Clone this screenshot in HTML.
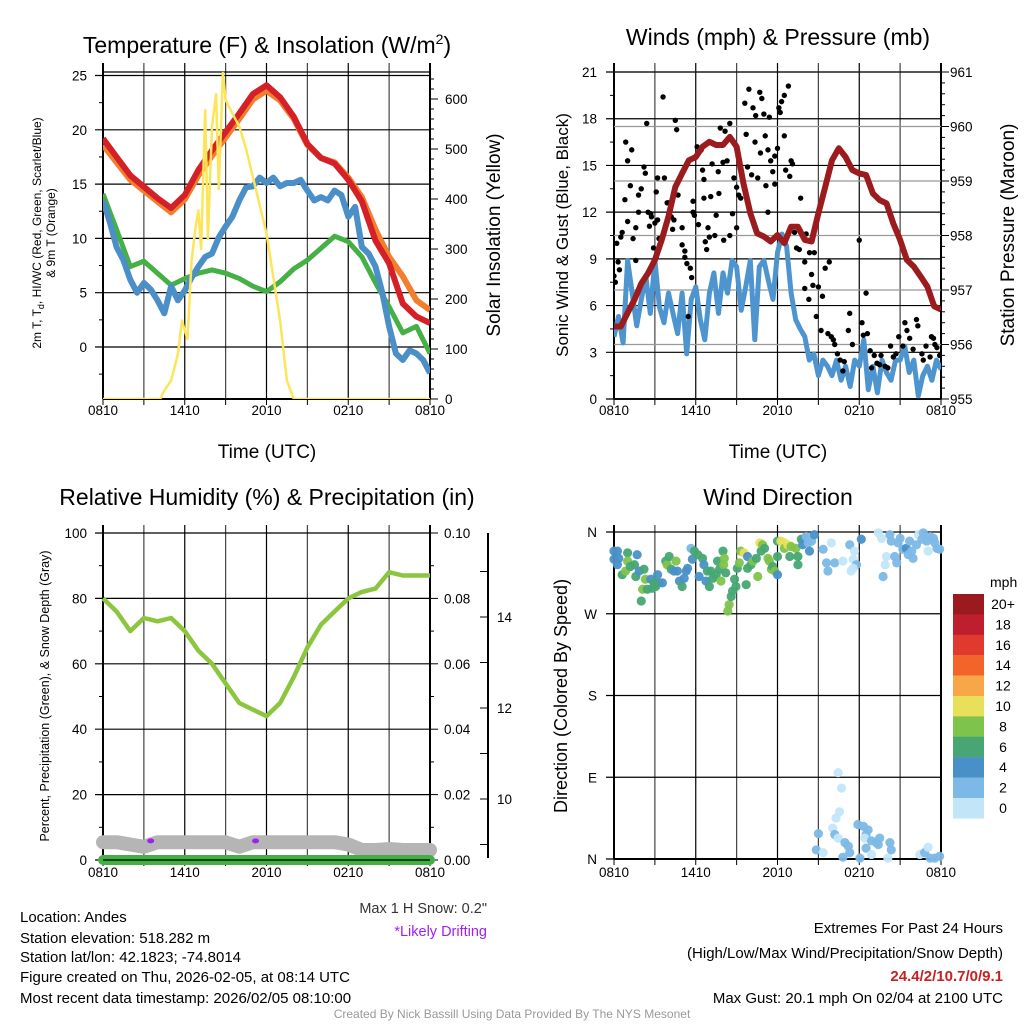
<!DOCTYPE html>
<html><head><meta charset="utf-8"><style>
html,body{margin:0;padding:0;background:#fff;}
svg{display:block;font-family:"Liberation Sans",Arial,sans-serif;}
</style></head><body>
<svg id="chart" width="1024" height="1024" viewBox="0 0 1024 1024" xmlns="http://www.w3.org/2000/svg">
<rect width="1024" height="1024" fill="#fff"/>
<g id="g1"></g>
<g id="g2"></g>
<g id="g3"></g>
<g id="g4"></g>
<text x="267" y="53" text-anchor="middle" font-size="23">Temperature (F) &amp; Insolation (W/m<tspan dy="-9" font-size="14">2</tspan><tspan dy="9">)</tspan></text>
<text x="778" y="45" text-anchor="middle" font-size="23">Winds (mph) &amp; Pressure (mb)</text>
<text x="267" y="505" text-anchor="middle" font-size="23">Relative Humidity (%) &amp; Precipitation (in)</text>
<text x="778" y="505" text-anchor="middle" font-size="23">Wind Direction</text>
<text x="267" y="458" text-anchor="middle" font-size="19">Time (UTC)</text>
<text x="778" y="458" text-anchor="middle" font-size="19">Time (UTC)</text>
<text transform="translate(41,233) rotate(-90)" text-anchor="middle" font-size="12">2m T, T<tspan dy="3" font-size="9">d</tspan><tspan dy="-3">, HI/WC (Red, Green, Scarlet/Blue)</tspan></text>
<text transform="translate(55,233) rotate(-90)" text-anchor="middle" font-size="12">&amp; 9m T (Orange)</text>
<text transform="translate(500,235) rotate(-90)" text-anchor="middle" font-size="19">Solar Insolation (Yellow)</text>
<text transform="translate(568,235) rotate(-90)" text-anchor="middle" font-size="17">Sonic Wind &amp; Gust (Blue, Black)</text>
<text transform="translate(1014,235) rotate(-90)" text-anchor="middle" font-size="19">Station Pressure (Maroon)</text>
<text transform="translate(49,696) rotate(-90)" text-anchor="middle" font-size="12.5">Percent, Precipitation (Green), &amp; Snow Depth (Gray)</text>
<text transform="translate(567,696) rotate(-90)" text-anchor="middle" font-size="18">Direction (Colored By Speed)</text>
<text x="487" y="913" text-anchor="end" font-size="14.5" fill="#333">Max 1 H Snow: 0.2"</text>
<text x="487" y="936" text-anchor="end" font-size="14.5" fill="#a020f0">*Likely Drifting</text>
<g font-size="15">
<text x="20" y="922">Location: Andes</text>
<text x="20" y="943">Station elevation: 518.282 m</text>
<text x="20" y="962">Station lat/lon: 42.1823; -74.8014</text>
<text x="20" y="982">Figure created on Thu, 2026-02-05, at 08:14 UTC</text>
<text x="20" y="1003">Most recent data timestamp: 2026/02/05 08:10:00</text>
</g>
<g font-size="15" text-anchor="end">
<text x="1003" y="933">Extremes For Past 24 Hours</text>
<text x="1003" y="958">(High/Low/Max Wind/Precipitation/Snow Depth)</text>
<text x="1003" y="981" fill="#cc2020" font-weight="bold">24.4/2/10.7/0/9.1</text>
<text x="1003" y="1003">Max Gust: 20.1 mph On 02/04 at 2100 UTC</text>
</g>
<text x="512" y="1018" text-anchor="middle" font-size="12" fill="#999">Created By Nick Bassill Using Data Provided By The NYS Mesonet</text>
</svg>
<script>
// ---- Panel 1 data ----
const hourT = [0,1,2,3,4,5,6,7,8,9,10,11,12,13,14,15,16,17,18,19,20,21,22,23,24];
const tempRed = [19.2,17.5,15.8,14.75,13.7,12.8,14.0,16.3,18.1,19.8,21.5,23.3,24.1,23.0,21.2,18.7,17.4,16.9,15.4,13.4,9.8,7.7,4.0,2.8,2.2];
const tempOrange = [18.6,17.0,15.4,14.4,13.4,12.4,13.6,15.8,17.6,19.3,21.0,22.8,23.6,22.7,21.0,18.6,17.4,17.0,15.6,13.8,10.8,8.3,6.5,4.3,3.4];
const dewGreen = [14.1,10.8,7.4,7.9,6.8,5.7,6.3,6.8,7.1,6.8,6.3,5.6,5.1,6.0,7.2,8.0,9.1,10.2,9.7,8.3,5.9,3.7,1.3,1.9,-0.6];
const windChillBlue = [13.5,11.5,9.2,8.0,6.2,5.0,5.9,5.3,4.3,3.1,5.6,4.3,5.2,6.4,7.4,8.3,8.6,10.1,11.1,12.0,13.5,14.7,14.8,15.6,15.1,15.6,14.8,15.1,15.1,15.4,14.4,13.5,13.8,13.5,14.4,14.0,12.0,12.9,9.2,8.6,7.4,5.0,1.9,-0.6,-1.2,-0.3,-0.6,-1.2,-2.4];
const solarT = [0,4.2,4.5,5,5.5,5.8,6,6.2,6.5,6.8,7,7.2,7.5,7.7,8,8.3,8.5,8.8,9,9.5,10,10.5,11,12,13,13.5,14,24];
const solarV = [0,0,17,37,90,157,137,120,277,344,377,300,578,320,545,610,420,652,598,571,545,500,444,331,157,37,0,0];
const tempTicks = [0,5,10,15,20,25];
const solarTicks = [0,100,200,300,400,500,600];
const timeLabels = ["0810","1410","2010","0210","0810"];
// ---- Panel 2 data ----
const pressure = [956.33,956.33,956.58,956.82,957.12,957.31,957.55,957.92,958.35,958.89,959.14,959.38,959.44,959.63,959.72,959.66,959.66,959.81,959.63,958.96,958.41,958.04,957.98,957.89,958.01,957.86,958.16,958.16,957.92,957.89,958.41,958.89,959.38,959.60,959.44,959.20,959.14,959.11,958.77,958.65,958.59,958.22,957.92,957.55,957.43,957.25,957.06,956.70,956.64];
const windSpeed = [4.0,5.3,3.6,8.9,6.8,4.7,6.4,7.9,5.5,8.9,5.9,4.9,6.8,5.5,4.2,6.8,2.9,6.4,7.2,5.1,3.8,6.8,8.1,5.5,8.1,6.8,8.9,8.5,5.7,7.2,8.9,3.8,8.5,8.9,7.6,6.4,9.4,10.6,9.8,6.8,5.1,4.5,4.0,2.5,2.9,1.5,2.5,2.1,1.5,2.5,1.2,2.1,0.8,2.5,2.1,3.8,0.6,2.1,0.4,2.5,1.7,1.2,2.5,2.5,3.4,1.7,2.5,0.2,1.5,2.1,1.2,2.5,1.9];
const gustT = [0,0.1,0.2,0.3,0.4,0.5,0.6,0.8,0.86,1.0,1.0,1.2,1.3,1.4,1.6,1.6,1.8,1.8,2.0,2.2,2.3,2.4,2.5,2.6,2.7,2.75,2.9,3.0,3.1,3.2,3.2,3.3,3.6,3.7,3.9,4.0,4.2,4.3,4.4,4.5,4.6,4.7,5.0,5.0,5.2,5.2,5.35,5.45,5.6,5.7,5.8,5.8,5.9,6.1,6.2,6.3,6.4,6.5,6.6,6.6,6.7,6.8,6.9,7.0,7.1,7.2,7.4,7.5,7.65,7.7,7.8,8.0,8.05,8.15,8.3,8.5,8.5,8.7,8.8,9.0,9.0,9.15,9.3,9.6,9.7,9.8,9.9,10.1,10.2,10.35,10.4,10.55,10.7,10.75,10.85,11.0,11.1,11.15,11.3,11.3,11.4,11.5,11.65,11.8,11.8,12.0,12.1,12.2,12.3,12.5,12.5,12.6,12.8,12.9,13.0,13.1,13.25,13.4,13.6,13.7,14.0,14.1,14.0,14.3,14.35,14.5,14.6,14.7,14.85,15.0,15.2,15.3,15.5,15.7,15.8,15.95,16.1,16.2,16.4,16.6,16.8,16.9,17.2,17.3,17.5,18.0,18.2,18.3,18.5,18.6,18.8,18.9,19.1,19.3,19.5,19.6,19.9,20.1,20.3,20.5,20.7,20.9,21.2,21.35,21.5,21.7,21.95,22.2,22.3,22.6,22.7,22.9,23.2,23.3,23.45,23.55,23.7,23.9];
const gustV = [7.9,7.5,10,8.8,8.3,10.4,10.7,12.8,16.5,15.3,11.4,13.7,16,10.3,11,8.9,12,13.1,13.5,14.9,14.5,17.7,12,11.1,11.9,11.7,9.7,11.3,13.3,11.5,14.2,10.3,19.4,14.2,12.6,12.6,11.7,10.9,11.5,17.9,17.3,13.1,11,9.9,9.5,9.1,8.7,5.3,8.4,7.8,12.7,12,11.8,16.2,11.2,16.1,16,14.7,14.1,12.9,10.1,9.6,11,10.4,13,15.1,10.5,11.8,14.6,13.2,17.4,15.2,10.2,17.2,15.3,17.7,10.5,11.9,14.2,11,13.6,13.1,12.9,19,17,14.9,19.9,14.4,18.7,16.5,18.2,14.2,19.7,15.8,19.3,18.3,16.9,13.7,12,16,18.1,15.3,14.6,13.8,15.6,16.1,18.7,18.4,19.1,16.9,19.5,14.7,20.1,14.3,15.3,15.1,10.7,9.7,9.6,12.9,8.8,10.6,7.1,6.4,9.4,8,7.3,9.4,5.3,7.2,4.4,6.6,8.4,4.2,8.8,4,3.8,3.5,2.9,2.5,1.8,2.4,4.4,5.5,3.5,10.2,4.9,4.1,6.8,4.2,3.1,2,2.8,2.3,2.2,2.8,2.1,2,3.4,2.7,2.9,4,3.4,4.9,4.4,3.9,3.2,5.1,4.7,2.9,2.5,3.4,2.7,4,3.9,3.5,3.3,2.8];
const windTicks = [0,3,6,9,12,15,18,21];
const pressTicks = [955,956,957,958,959,960,961];
// ---- Panel 3 data ----
const rh = [80,76,70,74,73,74,70,64,60,54,48,46,44,48,56,65,72,76,80,82,83,88,87,87,87];
const precip = [0,0,0,0,0,0,0,0,0,0,0,0,0,0,0,0,0,0,0,0,0,0,0,0,0];
const snowDepth = [9.05,9.05,9.0,8.95,9.05,9.05,9.05,9.05,9.05,9.05,8.95,9.05,9.05,9.05,9.05,9.05,9.05,9.05,9.0,8.88,8.88,8.9,8.88,8.88,8.88];
const driftT = [3.5,11.2];
const driftV = [9.08,9.08];
const rhTicks = [0,20,40,60,80,100];
const precipTicks = ["0.00","0.02","0.04","0.06","0.08","0.10"];
const snowTicks = [10,12,14];
// ---- Panel 4 data ----
const dirT = [0,0.25,0,0.35,0.25,0.6,0.85,1.0,1.0,1.2,1.5,1.6,1.7,1.85,2.0,2.1,2.2,2.3,2.45,2.7,2.8,2.95,3.05,3.2,3.3,3.55,3.8,3.9,4.05,4.2,4.4,4.55,4.65,4.8,5.0,5.15,5.3,5.4,5.65,5.75,5.9,6.15,6.25,6.5,6.6,6.75,6.85,7.0,7.1,7.25,7.5,7.6,7.75,7.85,8.0,8.05,8.1,8.2,8.35,8.45,8.6,8.7,8.85,8.95,9.05,9.2,9.3,9.55,9.7,9.8,9.8,10.05,10.2,10.45,10.55,10.7,10.8,10.9,11.05,11.3,11.4,11.55,11.65,11.8,12.0,12.0,12.0,12.25,12.5,12.5,12.75,12.9,13.0,13.35,13.5,13.5,13.75,13.85,14.0,14.1,14.25,14.35,14.5,14.7,15.35,15.6,15.7,15.95,16.2,16.8,17.3,17.4,17.55,17.65,17.8,17.55,18.15,19.4,19.65,19.75,19.9,20.0,20.25,20.35,20.6,20.75,20.85,21.0,21.2,21.45,21.6,21.7,21.85,21.95,22.2,22.35,22.6,22.7,22.95,23.05,23.2,23.45,23.55,23.7,23.9,
16.45,16.7,16.55,16.3,16.05,15.0,14.85,15.35,16.2,16.45,16.95,17.2,17.3,16.8,17.9,18.3,18.65,18.5,18.4,18.9,19.25,19.5,19.4,20.25,20.35,18.5,18.9,18.05,20.1,22.45,22.8,23.05,23.2,23.55,23.9];
const dirDeg = [339,339,330,331,324,313,317,337,328,322,324,311,335,317,284,297,319,308,297,308,298,304,300,313,304,304,328,324,333,319,317,328,317,306,300,309,317,320,342,330,339,335,311,331,324,306,317,300,317,309,313,328,319,306,339,324,331,315,273,280,289,295,308,300,320,326,339,337,302,333,320,324,328,331,311,348,339,346,342,331,328,319,322,317,313,350,333,350,348,342,346,333,344,342,333,324,352,346,353,355,348,339,350,357,341,326,317,348,326,328,346,317,330,339,324,320,352,359,353,311,324,333,357,350,333,326,348,353,341,342,335,350,339,331,346,357,352,359,350,339,355,353,348,342,341,
95,78,52,45,34,28,10,7,27,23,18,14,7,2,38,36,32,27,23,20,18,23,16,18,10,12,5,1,1,5,7,13,1,1,3];
const dirSpd = [5,5,5,4,5,7,9,7,9,7,7,7,5,5,7,9,7,9,7,5,7,7,7,5,7,5,7,9,7,7,5,9,5,5,7,5,5,5,3,5,7,7,5,7,5,5,7,7,7,7,7,7,7,9,7,9,9,7,9,9,7,7,7,7,7,9,9,11,7,5,7,7,9,7,9,11,7,9,7,9,9,9,7,9,5,7,7,11,11,9,11,7,9,9,7,7,7,5,5,3,3,5,3,5,3,3,3,1,3,1,3,1,1,1,3,1,5,1,1,3,1,1,3,3,3,3,3,3,3,5,3,3,3,3,3,1,3,3,3,1,3,3,3,3,3,
1,1,1,1,1,3,3,1,3,1,3,3,3,3,3,3,3,3,1,3,3,3,3,3,3,3,1,3,1,1,3,1,3,3,3];
const dirLabels = ["N","E","S","W","N"];
const dirTicks = [0,90,180,270,360];
const speedLabels = ["20+","18","16","14","12","10","8","6","4","2","0"];
const speedColors = ["#9b1a1e","#be1e2d","#e03a2e","#f26429","#f8a748","#e8e05a","#7ec34b","#47a673","#4a90c8","#7cb9e6","#c2e6f8"];

const NS = "http://www.w3.org/2000/svg";
function mk(parent, tag, attrs){ const e=document.createElementNS(NS,tag); for(const k in attrs) e.setAttribute(k,attrs[k]); parent.appendChild(e); return e; }
function txt(parent, x, y, s, anchor, size, fill){ const e=mk(parent,'text',{x:x,y:y,'text-anchor':anchor,'font-size':size,fill:fill||'#000'}); e.textContent=s; return e; }
function pathFrom(xs, ys){ let d=''; for(let i=0;i<xs.length;i++) d+=(i?'L':'M')+xs[i].toFixed(1)+','+ys[i].toFixed(1); return d; }

// ---- scales ----
const p1x = t => 103 + t*13.625;
const p2x = t => 614 + t*13.625;
const yTemp = v => 347 - v*10.86;
const ySolar = w => 399 - w*0.5;
const yWind = v => 399 - v*15.57;
const yPress = p => 399 - (p-955)*54.5;
const yRH = v => 860 - v*3.27;
const yPrecip = v => 860 - v*3270;
const ySnow = s => 799 - (s-10)*45.5;
const yDir = d => 859 - d*(327/360);

function frame(g, xf, top, bottom, left, right){
  for(let h=3; h<24; h+=3){
    const l=mk(g,'line',{x1:xf(h),x2:xf(h),y1:top,y2:bottom,stroke:(h%6===0)?'#000':'#444','stroke-width':1.2});
    
    
  }
  for(let h=0; h<=24; h+=3){
    const l=mk(g,'line',{x1:xf(h),x2:xf(h),y1:bottom,y2:bottom+6,stroke:'#000','stroke-width':1});
    
    
  }
  timeLabels.forEach((s,i)=>{
    const e=txt(g,xf(i*6),415,s,'middle',13.5);
    
    
  });
  mk(g,'line',{x1:left,x2:left,y1:top,y2:bottom,stroke:'#000','stroke-width':2});
  mk(g,'line',{x1:right,x2:right,y1:top,y2:bottom,stroke:'#000','stroke-width':2});
  mk(g,'line',{x1:left,x2:right,y1:bottom,y2:bottom,stroke:'#000','stroke-width':2});
}

// ===== Panel 1 =====
(function(){
  const g=document.getElementById('g1');
  frame(g,p1x,63,399,103,430);
  [...g.querySelectorAll('text')].forEach(t=>t.setAttribute('y',415));
  mk(g,'line',{x1:103,x2:430,y1:72,y2:72,stroke:'#000','stroke-width':1.3});
  tempTicks.forEach(v=>{
    const l=mk(g,'line',{x1:95,x2:430,y1:yTemp(v),y2:yTemp(v),stroke:'#000','stroke-width':1.2});
    
    
    const e=txt(g,87,yTemp(v)+5,String(v),'end',13.5);
    
    
  });
  for(let v=-2.5; v<26; v+=5) mk(g,'line',{x1:99,x2:103,y1:yTemp(v),y2:yTemp(v),stroke:'#000'});
  solarTicks.forEach(w=>{
    mk(g,'line',{x1:430,x2:438,y1:ySolar(w),y2:ySolar(w),stroke:'#000'});
    const e=txt(g,445,ySolar(w)+5,String(w),'start',13.5);
    
    
  });
  for(let w=20; w<660; w+=20) mk(g,'line',{x1:430,x2:434,y1:ySolar(w),y2:ySolar(w),stroke:'#000'});
  const clip=mk(g,'clipPath',{id:'c1'}); mk(clip,'rect',{x:103,y:63,width:327,height:336});
  const s=mk(g,'g',{'clip-path':'url(#c1)'});
  const halfT = windChillBlue.map((_,i)=>i*0.5);
  let e;
  e=mk(s,'path',{d:pathFrom(hourT.map(p1x),dewGreen.map(yTemp)),fill:'none',stroke:'#45b045','stroke-width':5,'stroke-linejoin':'round'});
   
  e=mk(s,'path',{d:pathFrom(halfT.map(p1x),windChillBlue.map(yTemp)),fill:'none',stroke:'#4a8fc8','stroke-width':6,'stroke-linejoin':'round'});
   
  e=mk(s,'path',{d:pathFrom(hourT.map(p1x),tempOrange.map(yTemp)),fill:'none',stroke:'#f27e2e','stroke-width':6,'stroke-linejoin':'round'});
   
  e=mk(s,'path',{d:pathFrom(hourT.map(p1x),tempRed.map(yTemp)),fill:'none',stroke:'#d42026','stroke-width':6,'stroke-linejoin':'round'});
   
  e=mk(s,'path',{d:pathFrom(solarT.map(p1x),solarV.map(ySolar)),fill:'none',stroke:'#fde55a','stroke-width':2.5,'stroke-linejoin':'round'});
   
})();

// ===== Panel 2 =====
(function(){
  const g=document.getElementById('g2');
  frame(g,p2x,63,399,614,941);
  pressTicks.forEach(p=>{
    mk(g,'line',{x1:614,x2:941,y1:yPress(p),y2:yPress(p),stroke:'#999','stroke-width':1.2});
    mk(g,'line',{x1:941,x2:949,y1:yPress(p),y2:yPress(p),stroke:'#000'});
    const e=txt(g,950,yPress(p)+5,String(p),'start',13.5);
    
    
  });
  for(let p=955.2;p<961;p+=0.2) mk(g,'line',{x1:941,x2:945,y1:yPress(p),y2:yPress(p),stroke:'#000'});
  windTicks.forEach(v=>{
    const l=mk(g,'line',{x1:606,x2:941,y1:yWind(v),y2:yWind(v),stroke:'#000','stroke-width':1.2});
    
    
    const e=txt(g,597,yWind(v)+5,String(v),'end',13.5);
    
    
  });
  for(let v=1.5; v<21; v+=3) mk(g,'line',{x1:610,x2:614,y1:yWind(v),y2:yWind(v),stroke:'#000'});
  const clip=mk(g,'clipPath',{id:'c2'}); mk(clip,'rect',{x:614,y:63,width:327,height:336});
  const s=mk(g,'g',{'clip-path':'url(#c2)'});
  const wt = windSpeed.map((_,i)=>i/3);
  let e=mk(s,'path',{d:pathFrom(wt.map(p2x),windSpeed.map(yWind)),fill:'none',stroke:'#4e95cf','stroke-width':5,'stroke-linejoin':'round'});
   
  gustT.forEach((t,i)=>{
    const c=mk(s,'circle',{cx:p2x(t),cy:yWind(gustV[i]),r:2.7,fill:'#000'});
    
    
  });
  const pt = pressure.map((_,i)=>i*0.5);
  e=mk(s,'path',{d:pathFrom(pt.map(p2x),pressure.map(yPress)),fill:'none',stroke:'#9b1b1e','stroke-width':6,'stroke-linejoin':'round'});
   
})();

// ===== Panel 3 =====
(function(){
  const g=document.getElementById('g3');
  frame(g,p1x,525,860,103,430);
  [...g.querySelectorAll('text')].forEach(t=>t.setAttribute('y',877));
  [...g.querySelectorAll('line')].forEach(l=>{ if(l.getAttribute('y1')==='399'){} });
  rhTicks.forEach((v,i)=>{
    const l=mk(g,'line',{x1:95,x2:430,y1:yRH(v),y2:yRH(v),stroke:'#000','stroke-width':1.2});
    
    
    const e=txt(g,87,yRH(v)+5,String(v),'end',13.5);
    
    
    mk(g,'line',{x1:430,x2:438,y1:yRH(v),y2:yRH(v),stroke:'#000'});
    const e2=txt(g,444,yRH(v)+5,precipTicks[i],'start',13.5);
    
    
  });
  for(let v=10;v<100;v+=20){ mk(g,'line',{x1:99,x2:103,y1:yRH(v),y2:yRH(v),stroke:'#000'}); mk(g,'line',{x1:430,x2:434,y1:yRH(v),y2:yRH(v),stroke:'#000'}); }
  mk(g,'line',{x1:488,x2:488,y1:533,y2:858,stroke:'#000','stroke-width':2,});
  for(let s=9;s<=16;s+=1){ const y=ySnow(s); if(y>533&&y<858) mk(g,'line',{x1:480,x2:488,y1:y,y2:y,stroke:'#000'}); }
  snowTicks.forEach(s=>{
    const e=txt(g,497,ySnow(s)+5,String(s),'start',13.5);
    
    
  });
  let e=mk(g,'path',{d:pathFrom(hourT.map(p1x),snowDepth.map(ySnow)),fill:'none',stroke:'#b5b5b5','stroke-width':14,'stroke-linecap':'round','stroke-linejoin':'round'});
   
  e=mk(g,'path',{d:pathFrom(hourT.map(p1x),precip.map(yPrecip)),fill:'none',stroke:'#44b044','stroke-width':10,'stroke-linecap':'round'});
   
  mk(g,'line',{x1:103,x2:430,y1:860,y2:860,stroke:'#000','stroke-width':1.2});
  driftT.forEach((t,i)=>{
    const c=mk(g,'ellipse',{cx:p1x(t),cy:ySnow(driftV[i]),rx:3.5,ry:2.5,fill:'#a020f0'});
    
    
  });
  e=mk(g,'path',{d:pathFrom(hourT.map(p1x),rh.map(yRH)),fill:'none',stroke:'#8cc63f','stroke-width':4.5,'stroke-linejoin':'round'});
   
})();

// ===== Panel 4 =====
(function(){
  const g=document.getElementById('g4');
  frame(g,p2x,525,859,614,941);
  [...g.querySelectorAll('text')].forEach(t=>t.setAttribute('y',877));
  dirTicks.forEach((d,i)=>{
    const l=mk(g,'line',{x1:606,x2:941,y1:yDir(d),y2:yDir(d),stroke:'#000','stroke-width':1.2});
    
    
    const e=txt(g,597,yDir(d)+5,dirLabels[i],'end',13.5);
    
    
  });
  dirT.forEach((t,i)=>{
    const bin=Math.min(10,Math.floor(dirSpd[i]/2));
    const c=mk(g,'circle',{cx:p2x(t),cy:yDir(dirDeg[i]),r:4.6,fill:speedColors[10-bin],'fill-opacity':0.95});
    
    
  });
  const cb=mk(g,'g',{});
  
  
  txt(cb,990,587,'mph','start',14);
  speedLabels.forEach((s,i)=>{
    const r=mk(cb,'rect',{x:953,y:594+i*20.4,width:31,height:20.6,fill:speedColors[i]});
    
    
    const e=txt(cb,1003,594+i*20.4+15,s,'middle',14);
    
    
  });
})();
</script>
</body></html>
